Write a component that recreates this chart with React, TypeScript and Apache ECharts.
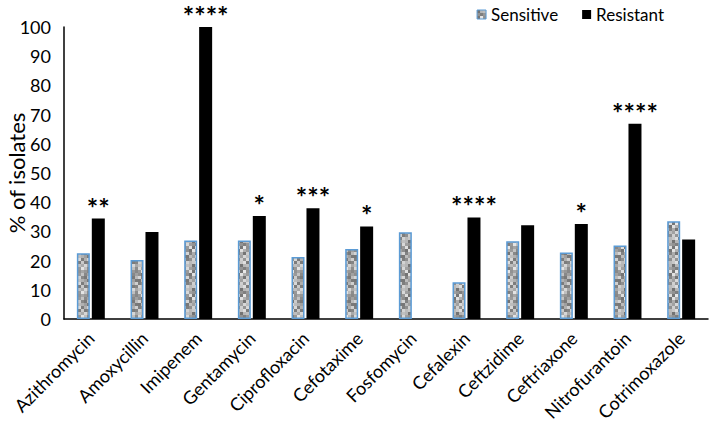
import { useEffect, useRef } from "react";
import * as echarts from "echarts";

const categories = [
  "Azithromycin", "Amoxycillin", "Imipenem", "Gentamycin", "Ciprofloxacin", "Cefotaxime",
  "Fosfomycin", "Cefalexin", "Ceftzidime", "Ceftriaxone", "Nitrofurantoin", "Cotrimoxazole",
];
const sensitive = [22.5, 20.2, 26.9, 26.9, 21.2, 24.0, 29.7, 12.6, 26.6, 22.8, 25.2, 33.5];
const resistant = [34.4, 29.8, 100, 35.3, 37.9, 31.7, 0, 34.8, 32.1, 32.5, 66.9, 27.2];
const significance = ["**", "", "****", "*", "***", "*", "", "****", "", "*", "****", ""];
const yMin = 0;
const yMax = 100;
const yStep = 10;

const FONT = "Lato, 'Open Sans', sans-serif";

function makeTexture(): HTMLCanvasElement {
  const size = 24;
  const cell = 3;
  const c = document.createElement("canvas");
  c.width = size;
  c.height = size;
  const ctx = c.getContext("2d")!;
  ctx.fillStyle = "#c4c4c4";
  ctx.fillRect(0, 0, size, size);
  for (let y = 0; y < size; y += cell) {
    for (let x = 0; x < size; x += cell) {
      const h = Math.abs(Math.sin(x * 12.9898 + y * 78.233) * 43758.5453) % 1;
      const g = Math.round(115 + h * 120);
      ctx.fillStyle = `rgb(${g},${g},${g})`;
      ctx.fillRect(x, y, cell, cell);
    }
  }
  return c;
}

export default function App() {
  const ref = useRef<HTMLDivElement>(null);
  useEffect(() => {
    if (!ref.current) return;
    const chart = echarts.init(ref.current, undefined, { renderer: "svg" });
    const texture = makeTexture();
    const pattern: any = { image: texture, repeat: "repeat" };
    chart.setOption({
      animation: false,
      textStyle: { fontFamily: FONT, color: "#000" },
      legend: {
        right: 40,
        top: 1,
        itemWidth: 9,
        itemHeight: 9,
        itemGap: 24,
        textStyle: { fontSize: 17, color: "#000", fontFamily: FONT },
        data: [
          { name: "Sensitive", icon: "rect", itemStyle: { color: pattern, borderColor: "#5b9bd5", borderWidth: 1 } },
          { name: "Resistant", icon: "rect", itemStyle: { color: "#000" } },
        ],
      },
      grid: { left: 64, right: 1, top: 27, bottom: 105, containLabel: false, outerBoundsMode: "none" },
      xAxis: {
        type: "category",
        data: categories,
        axisLine: { lineStyle: { color: "#000", width: 1.5 } },
        axisTick: { show: false },
        axisLabel: {
          rotate: 45,
          interval: 0,
          fontSize: 18,
          color: "#000",
          fontFamily: FONT,
          margin: 16,
        },
      },
      yAxis: {
        type: "value",
        min: yMin,
        max: yMax,
        interval: yStep,
        name: "% of isolates",
        nameLocation: "middle",
        nameGap: 37,
        nameMoveOverlap: false,
        nameTextStyle: { fontSize: 22, color: "#000", fontFamily: FONT },
        axisLine: { show: true, lineStyle: { color: "#000", width: 1.5 } },
        axisTick: { show: false },
        splitLine: { show: false },
        axisLabel: { fontSize: 18, color: "#000", fontFamily: FONT, margin: 13 },
      },
      series: [
        {
          name: "Sensitive",
          type: "bar",
          data: sensitive,
          barWidth: 13,
          barGap: "15%",
          itemStyle: { color: pattern, borderColor: "#5b9bd5", borderWidth: 1.5 },
        },
        {
          name: "Resistant",
          type: "bar",
          data: resistant,
          barWidth: 13,
          itemStyle: { color: "#000" },
          label: {
            show: true,
            position: "top",
            distance: -2,
            fontSize: 27,
            fontWeight: "bold",
            color: "#000",
            fontFamily: FONT,
            formatter: (p: any) => significance[p.dataIndex],
          },
        },
      ],
    });
    return () => chart.dispose();
  }, []);
  return <div ref={ref} style={{ width: 709, height: 424, position: "absolute", left: 0, top: 0 }} />;
}
